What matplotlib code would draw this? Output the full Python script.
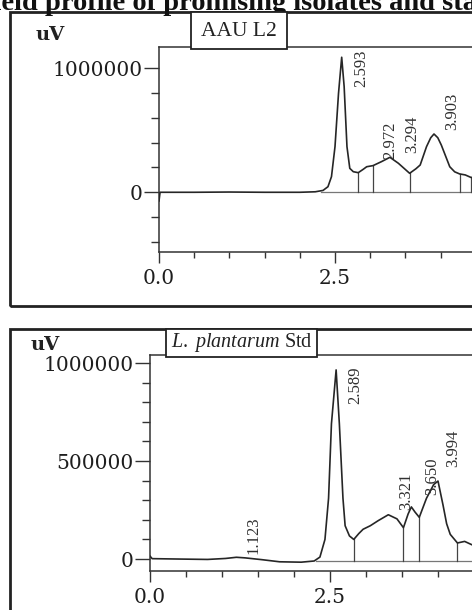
import numpy as np
import matplotlib
matplotlib.use("Agg")
from matplotlib import pyplot as plt
from matplotlib.patches import Rectangle
from matplotlib.ticker import MultipleLocator, FixedLocator, FixedFormatter

# --- data (retention time in min, signal in uV) ---
top_t = [0.00, 0.015, 0.5, 1.0, 1.5, 2.0, 2.22, 2.33, 2.40, 2.45, 2.50, 2.55, 2.595,
         2.63, 2.67, 2.71, 2.76, 2.83, 2.90, 2.95, 3.04, 3.16, 3.28, 3.40, 3.56,
         3.65, 3.71, 3.80, 3.86, 3.906, 3.96, 4.01, 4.13, 4.20, 4.27, 4.35, 4.43, 4.60]
top_v = [-70000, 0, 0, 2000, 0, 0, 4000, 15000, 45000, 126000, 368000, 798000, 1089000,
         852000, 368000, 193000, 166000, 158000, 185000, 206000, 215000, 247000, 282000,
         234000, 153000, 190000, 220000, 368000, 440000, 470000, 440000, 381000, 206000,
         165000, 148000, 140000, 120000, 110000]
top_drops = [2.83, 3.04, 3.56, 4.27, 4.43]
top_peaks = ["2.593", "2.972", "3.294", "3.903"]

bot_t = [0.00, 0.03, 0.40, 0.80, 1.05, 1.20, 1.32, 1.55, 1.80, 2.10, 2.28, 2.36, 2.43,
         2.48, 2.52, 2.585, 2.63, 2.68, 2.71, 2.77, 2.83, 2.90, 2.96, 3.06, 3.17, 3.31,
         3.43, 3.52, 3.585, 3.63, 3.68, 3.74, 3.84, 3.94, 4.00, 4.07, 4.12, 4.17, 4.27,
         4.37, 4.47, 4.60]
bot_v = [15000, 2000, 0, -2000, 3000, 9000, 6000, -3000, -14000, -16000, -10000, 10000,
         100000, 310000, 690000, 965000, 690000, 310000, 170000, 118000, 100000, 130000,
         152000, 170000, 196000, 226000, 205000, 160000, 230000, 266000, 240000, 213000,
         310000, 380000, 398000, 275000, 180000, 126000, 82000, 90000, 73000, 62000]
bot_drops = [2.83, 3.52, 3.74, 4.27]
bot_peaks = ["1.123", "2.589", "3.321", "3.650", "3.994"]

# label anchor positions (layout only)
top_lbl_x = [2.87, 3.28, 3.59, 4.17]
top_lbl_y = [849000, 265000, 317000, 502000]
bot_lbl_x = [1.435, 2.85, 3.565, 3.92, 4.21]
bot_lbl_y = [25000, 790000, 250000, 325000, 470000]

W, H = 472, 610
plt.rcParams['font.family'] = ['DejaVu Serif']
plt.rcParams['mathtext.fontset'] = 'custom'
plt.rcParams['mathtext.it'] = 'Liberation Serif:italic'
plt.rcParams['mathtext.rm'] = 'Liberation Serif'

fig = plt.figure(figsize=(W / 100, H / 100), dpi=100)


def fx(x):
    return x / W


def fy(y):
    return 1 - y / H


def panel(left, top, bottom, xscale, ylim, major, minor, t, v, drops, base, peaks, lx, ly):
    ax = fig.add_axes([fx(left), fy(bottom), 5.0 * xscale / W, (bottom - top) / H])
    ax.plot(t, v, color='#262626', lw=1.2, zorder=3)
    ax.plot([2.30, 5.0], [base, base], color='#777777', lw=0.9, zorder=2)
    for d in drops:
        ax.plot([d, d], [base, np.interp(d, t, v)], color='#444444', lw=0.9, zorder=2)
    for s, x, y in zip(peaks, lx, ly):
        ax.text(x, y, s, rotation=90, ha='center', va='bottom', family='Liberation Serif',
                fontsize=12, color='#303030')
    ax.set_xlim(0, 5.0)
    ax.set_ylim(*ylim)
    # only 0.0 and 2.5 fall inside the cropped picture
    ax.xaxis.set_major_locator(FixedLocator([0.0, 2.5]))
    ax.xaxis.set_major_formatter(FixedFormatter(['0.0', '2.5']))
    ax.xaxis.set_minor_locator(MultipleLocator(0.5))
    ax.yaxis.set_major_locator(MultipleLocator(major))
    ax.yaxis.set_minor_locator(MultipleLocator(minor))
    ax.yaxis.set_major_formatter(matplotlib.ticker.FuncFormatter(lambda val, p: '%d' % val))
    ax.tick_params(axis='y', which='major', direction='out', length=11, width=1.0, pad=1,
                   labelsize=14.5, colors='#333333', labelcolor='#1e1e1e')
    ax.tick_params(axis='y', which='minor', direction='out', length=6, width=1.0, colors='#333333')
    ax.tick_params(axis='x', which='major', direction='out', length=8, width=1.0, pad=4,
                   labelsize=14.5, colors='#333333', labelcolor='#1e1e1e')
    ax.tick_params(axis='x', which='minor', direction='out', length=4.5, width=1.0, colors='#333333')
    for sp in ax.spines.values():
        sp.set_color('#333333')
        sp.set_linewidth(1.1)
    return ax


panel(159, 46.7, 252.3, 70.4, (-484000, 1174000), 1000000, 200000,
      top_t, top_v, top_drops, 0, top_peaks, top_lbl_x, top_lbl_y)
panel(150, 355, 571, 72.0, (-61000, 1041000), 500000, 100000,
      bot_t, bot_v, bot_drops, -10000, bot_peaks, bot_lbl_x, bot_lbl_y)

# outer frames
for top, bottom in [(12, 306), (329, 640)]:
    fig.patches.append(Rectangle((fx(10), fy(bottom)), 1.2, (bottom - top) / H,
                                 transform=fig.transFigure, fill=False, ec='#222222', lw=2.0))

# sample name boxes
for (x0, x1, y0, y1) in [(191, 287, 12, 49), (166, 317, 329, 357)]:
    fig.patches.append(Rectangle((fx(x0), fy(y1)), (x1 - x0) / W, (y1 - y0) / H,
                                 transform=fig.transFigure, fc='white', ec='#222222', lw=1.3,
                                 zorder=5))
fig.text(fx(239), fy(31), 'AAU L2', ha='center', va='center', family='Liberation Serif',
         fontsize=15.5, color='#222222', zorder=6)
fig.text(fx(241.5), fy(343), r'$\mathit{L.\ plantarum}$ Std', ha='center', va='center',
         family='Liberation Serif', fontsize=14.5, color='#222222', zorder=6)

fig.text(fx(50), fy(35), 'uV', ha='center', va='center', fontsize=14, weight='bold',
         color='#222222')
fig.text(fx(45), fy(345), 'uV', ha='center', va='center', fontsize=14, weight='bold',
         color='#222222')

# caption, cut off at the top and sides of the crop as in the source picture
fig.text(fx(-26), fy(10), 'Yield profile of promising isolates and standard', ha='left',
         va='baseline', family='Liberation Serif', weight='bold', fontsize=20.5, color='#111111')

fig.savefig('out.png', dpi=100)
